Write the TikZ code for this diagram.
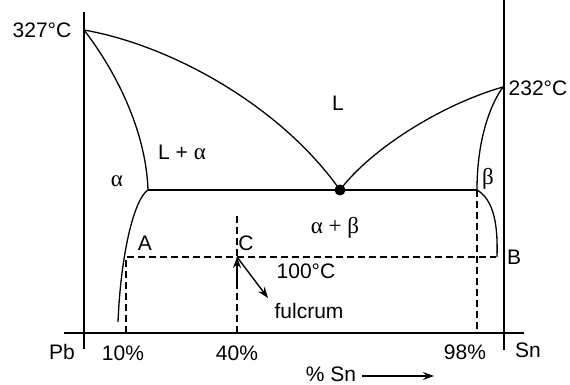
\documentclass[tikz,border=0pt]{standalone}
\usepackage{fontspec}
\setmainfont{Liberation Sans}
\newfontfamily\grk{Liberation Serif}
\usetikzlibrary{arrows.meta}
\begin{document}
\begin{tikzpicture}[x=1pt,y=-1pt,
  lbl/.style={font=\fontsize{21}{25}\selectfont, inner sep=0pt},
  gk/.style={font=\fontsize{23}{27}\selectfont\grk, inner sep=0pt},
  curve/.style={line width=1.3pt},
  axis/.style={line width=1.3pt},
  dsh/.style={line width=2pt, dash pattern=on 7pt off 4pt},
  arr/.style={line width=1.4pt, -{Stealth[length=11pt,width=8pt]}}]
\useasboundingbox (0,0) rectangle (570,385);
% axes
\coordinate (lt) at (84,12);
\coordinate (lb) at (84,349);
\coordinate (rt) at (504,0);
\coordinate (rb) at (504,350);
\coordinate (al) at (64,333);
\coordinate (ar) at (524,333);
\draw[axis] (lt) -- (lb);
\draw[axis] (rt) -- (rb);
\draw[axis] (al) -- (ar);
% key points
\coordinate (Pm) at (84,30);
\coordinate (Sm) at (503,87);
\coordinate (ea) at (148,190);
\coordinate (eb) at (477,190);
\coordinate (E) at (340,190);
\coordinate (as) at (118,322);
\coordinate (bs) at (497,257);
% curves
\draw[curve] (Pm) .. controls (115,70) and (146,130) .. (ea);
\draw[curve] (ea) .. controls (135,198) and (121,250) .. (as);
\draw[curve] (Pm) .. controls (170,45) and (280,105) .. (E);
\draw[curve] (E) .. controls (370,150) and (440,105) .. (Sm);
\draw[curve] (Sm) .. controls (490,105) and (477,140) .. (eb);
\draw[curve] (eb) .. controls (494,200) and (498,225) .. (bs);
\draw[curve] (ea) -- (eb);
\fill (E) circle (5.5);
% dashed construction
\coordinate (A) at (126,257);
\coordinate (C) at (237,257);
\coordinate (B) at (496,257);
\coordinate (A0) at (126,333);
\coordinate (C0) at (237,333);
\coordinate (Ct) at (237,216);
\coordinate (B0) at (477,333);
\draw[dsh] (A0) -- (A) -- (B);
\draw[dsh] (Ct) -- (C0);
\draw[dsh] (eb) -- (B0);
% arrows at C
\coordinate (Cu) at (237,282);
\coordinate (Cf) at (268,298);
\draw[arr] (Cu) -- (C);
\draw[arr] (C) -- (Cf);
% labels
\node[lbl] (t327) at (42,30) {327°C};
\node[lbl] (t232) at (538,88) {232°C};
\node[lbl] (tL) at (338,103) {L};
\node[lbl] (tLa) at (182,152) {L + {\fontsize{23}{27}\selectfont\grk α}};
\node[gk] (ta) at (117,181) {α};
\node[gk] (tb) at (488,179) {β};
\node[gk] (tab) at (335,228) {α + β};
\node[lbl] (tA) at (145,243) {A};
\node[lbl] (tC) at (246,243) {C};
\node[lbl] (tB) at (514,257) {B};
\node[lbl] (t100) at (306,271) {100°C};
\node[lbl] (tful) at (309,311) {fulcrum};
\node[lbl] (tPb) at (62,352) {Pb};
\node[lbl] (t10) at (123,353) {10\%};
\node[lbl] (t40) at (237,353) {40\%};
\node[lbl] (t98) at (465,352) {98\%};
\node[lbl] (tSn) at (528,350) {Sn};
\node[lbl] (tpS) at (331,374) {\% Sn};
\coordinate (s1) at (362,376);
\coordinate (s2) at (434,376);
\draw[arr] (s1) -- (s2);
\end{tikzpicture}
\end{document}
